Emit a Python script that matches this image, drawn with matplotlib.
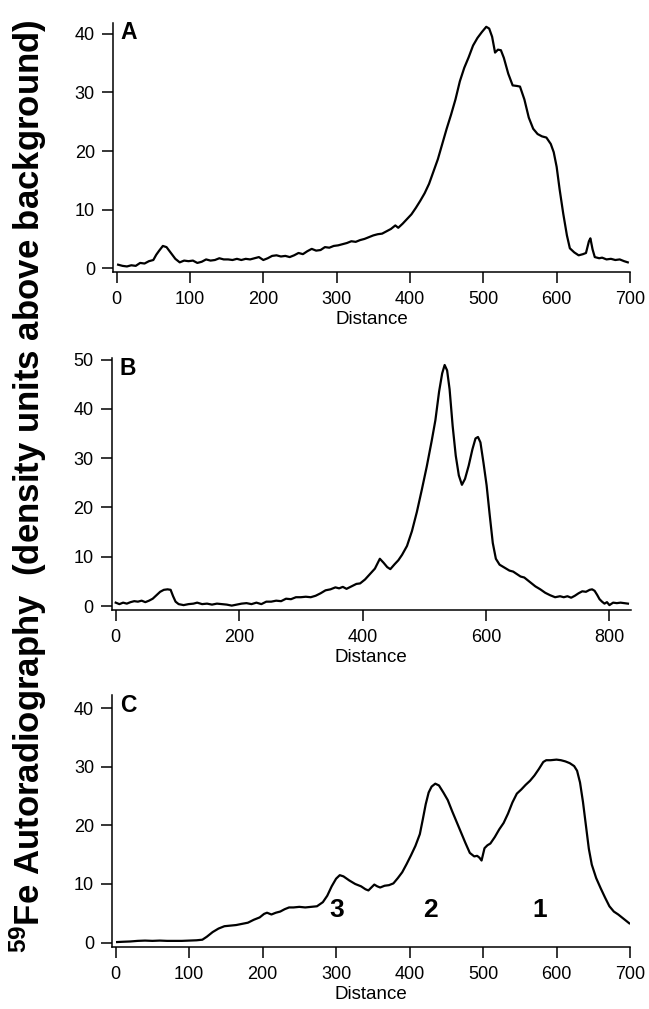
import numpy as np
import matplotlib
matplotlib.use("Agg")
import matplotlib.pyplot as plt

plt.rcParams['font.family'] = ['Liberation Sans', 'DejaVu Sans']
plt.rcParams['mathtext.fontset'] = 'custom'
plt.rcParams['mathtext.rm'] = 'Liberation Sans:bold'
plt.rcParams['mathtext.default'] = 'rm'

# panel A profile
a_x = [2, 8, 14, 20, 26, 32, 38, 44, 50, 54, 58, 63, 68, 74, 80, 86, 92, 98, 104, 110,
       116, 122, 128, 134, 140, 146, 152, 158, 164, 170, 176, 182, 188, 194, 200, 206,
       212, 218, 224, 230, 236, 242, 248, 254, 260, 266, 272, 278, 284, 290, 296, 302,
       308, 314, 320, 326, 332, 338, 344, 350, 356, 362, 368, 374, 380, 384, 390, 396,
       402, 408, 414, 420, 426, 432, 438, 444, 450, 456, 462, 468, 474, 480, 486, 492,
       498, 504, 508, 512, 516, 520, 524, 528, 534, 540, 546, 550, 556, 562, 568, 574,
       580, 586, 592, 596, 600, 604, 609, 614, 618, 624, 630, 636, 640, 644, 646, 649,
       652, 658, 662, 668, 674, 680, 686, 692, 697]
a_y = [0.6, 0.4, 0.3, 0.5, 0.4, 0.9, 0.8, 1.2, 1.4, 2.3, 3.0, 3.8, 3.6, 2.6, 1.6, 1.0,
       1.3, 1.2, 1.3, 0.9, 1.1, 1.5, 1.3, 1.4, 1.7, 1.5, 1.5, 1.4, 1.6, 1.4, 1.6, 1.5,
       1.7, 1.9, 1.4, 1.7, 2.1, 2.2, 2.0, 2.1, 1.9, 2.2, 2.6, 2.4, 2.9, 3.3, 3.0, 3.1,
       3.6, 3.5, 3.8, 3.9, 4.1, 4.3, 4.6, 4.5, 4.8, 5.0, 5.3, 5.6, 5.8, 5.9, 6.3, 6.7,
       7.3, 6.9, 7.6, 8.4, 9.2, 10.3, 11.5, 12.8, 14.4, 16.5, 18.6, 21.2, 23.8, 26.2,
       28.8, 31.9, 34.2, 36.0, 38.0, 39.3, 40.3, 41.2, 40.9, 39.5, 36.8, 37.3, 37.2,
       35.9, 33.2, 31.2, 31.1, 31.0, 28.8, 25.7, 23.8, 22.9, 22.5, 22.3, 21.2, 19.8,
       17.3, 13.5, 9.3, 5.6, 3.4, 2.7, 2.2, 2.4, 2.6, 4.6, 5.1, 3.2, 1.9, 1.7, 1.8,
       1.5, 1.6, 1.4, 1.5, 1.2, 1.0]

# panel B profile
b_x = [0, 6, 12, 18, 24, 30, 36, 42, 48, 54, 60, 66, 72, 78, 84, 89, 93, 97, 102, 110,
       118, 126, 132, 140, 148, 156, 164, 172, 180, 188, 196, 204, 212, 220, 228, 236,
       244, 252, 260, 268, 276, 284, 292, 300, 308, 316, 324, 332, 340, 348, 356, 362,
       368, 374, 382, 390, 396, 404, 412, 420, 428, 434, 440, 445, 452, 458, 464, 472,
       480, 488, 496, 504, 512, 518, 524, 529, 533, 537, 541, 546, 551, 556, 561, 566,
       572, 578, 583, 587, 591, 596, 601, 606, 611, 616, 622, 630, 638, 644, 650, 656,
       662, 668, 674, 680, 688, 696, 704, 712, 720, 726, 732, 738, 744, 750, 756, 762,
       768, 772, 776, 780, 784, 788, 792, 796, 800, 806, 812, 818, 824, 830]
b_y = [0.7, 0.4, 0.7, 0.5, 0.8, 1.0, 0.9, 1.1, 0.8, 1.1, 1.5, 2.2, 2.9, 3.3, 3.4, 3.3,
       2.0, 0.9, 0.4, 0.2, 0.4, 0.5, 0.7, 0.4, 0.5, 0.3, 0.5, 0.4, 0.3, 0.1, 0.3, 0.5,
       0.6, 0.4, 0.7, 0.4, 0.9, 0.9, 1.1, 1.0, 1.5, 1.4, 1.8, 1.8, 1.9, 1.8, 2.1, 2.6,
       3.2, 3.4, 3.8, 3.6, 3.9, 3.5, 4.0, 4.5, 4.6, 5.4, 6.5, 7.6, 9.6, 8.8, 7.9, 7.5,
       8.5, 9.3, 10.4, 12.2, 15.2, 19.1, 23.6, 28.3, 33.5, 37.7, 43.5, 47.2, 48.9, 47.8,
       44.0, 36.5, 30.5, 26.5, 24.6, 25.8, 28.5, 31.8, 34.0, 34.3, 33.2, 29.0, 24.5,
       18.5, 12.8, 9.6, 8.4, 7.8, 7.2, 7.0, 6.5, 6.0, 5.8, 5.2, 4.6, 4.0, 3.4, 2.7,
       2.2, 1.8, 2.0, 1.8, 2.0, 1.7, 2.1, 2.6, 3.0, 2.9, 3.3, 3.4, 3.1, 2.3, 1.4, 0.9,
       0.5, 0.8, 0.2, 0.7, 0.6, 0.7, 0.6, 0.5]

# panel C profile
c_x = [2, 10, 20, 30, 40, 50, 60, 70, 80, 90, 100, 110, 118, 124, 132, 140, 148, 156,
       164, 172, 180, 188, 196, 202, 206, 212, 218, 224, 230, 236, 242, 250, 258, 266,
       274, 282, 288, 294, 300, 305, 310, 318, 326, 334, 340, 344, 348, 352, 356, 360,
       366, 372, 378, 384, 390, 396, 402, 408, 414, 418, 422, 426, 430, 435, 440, 446,
       452, 458, 464, 470, 476, 482, 488, 492, 495, 498, 502, 506, 510, 516, 522, 528,
       534, 540, 546, 552, 558, 564, 570, 576, 582, 586, 592, 600, 606, 612, 618, 624,
       628, 632, 636, 640, 644, 648, 654, 660, 666, 672, 678, 684, 690, 696, 699]
c_y = [0.1, 0.15, 0.2, 0.3, 0.35, 0.3, 0.35, 0.3, 0.3, 0.3, 0.35, 0.4, 0.5, 1.0, 1.8,
       2.4, 2.8, 2.9, 3.0, 3.2, 3.4, 3.9, 4.3, 4.9, 5.1, 4.8, 5.1, 5.3, 5.7, 6.0, 6.0,
       6.1, 6.0, 6.1, 6.2, 6.9, 8.0, 9.6, 10.9, 11.5, 11.3, 10.6, 10.0, 9.6, 9.1, 8.9,
       9.4, 9.9, 9.6, 9.4, 9.7, 9.8, 10.1, 11.0, 12.0, 13.4, 14.9, 16.5, 18.5, 21.0,
       23.6, 25.6, 26.6, 27.1, 26.8, 25.6, 24.3, 22.4, 20.6, 18.8, 17.0, 15.3, 14.7,
       14.8, 14.5, 14.0, 16.1, 16.6, 16.9, 18.0, 19.3, 20.4, 22.0, 23.9, 25.4, 26.1,
       26.9, 27.6, 28.5, 29.6, 30.8, 31.1, 31.1, 31.2, 31.1, 30.9, 30.6, 30.1, 29.3,
       27.3, 24.0, 20.0, 16.0, 13.3, 11.0, 9.3, 7.7, 6.2, 5.3, 4.8, 4.2, 3.6, 3.3]

c_peaks = ['3', '2', '1']
c_peak_x = [301, 428, 577]

panels = [
    # letter, x, y, rect, xlim, ylim, xticks, yticks
    ('A', a_x, a_y, [0.1741, 0.7307, 0.7966, 0.2468], (-5, 700), (-0.6, 41.9),
     np.arange(0, 701, 100), np.arange(0, 41, 10)),
    ('B', b_x, b_y, [0.1721, 0.3954, 0.8002, 0.2497], (-6.5, 835), (-0.8, 50.3),
     np.arange(0, 801, 200), np.arange(0, 51, 10)),
    ('C', c_x, c_y, [0.1730, 0.0617, 0.7977, 0.2494], (-4.6, 700), (-0.7, 42.2),
     np.arange(0, 701, 100), np.arange(0, 41, 10)),
]

fig = plt.figure(figsize=(6.49, 10.09), dpi=100)

for letter, x, y, rect, xlim, ylim, xt, yt in panels:
    ax = fig.add_axes(rect)
    ax.plot(x, y, color='black', lw=1.6)
    ax.set_xlim(*xlim)
    ax.set_ylim(*ylim)
    ax.set_xticks(xt)
    ax.set_yticks(yt)
    for s in ['top', 'right']:
        ax.spines[s].set_visible(False)
    for s in ['left', 'bottom']:
        ax.spines[s].set_linewidth(1.1)
    ax.tick_params(direction='out', length=8, width=1.1, labelsize=13, pad=5)
    ax.tick_params(axis='x', pad=6)
    ax.set_xlabel('Distance', fontsize=13.5, labelpad=2)
    ax.text(0.015, 1.005, letter, transform=ax.transAxes, fontsize=16.5,
            fontweight='bold', ha='left', va='top')
    if letter == 'C':
        for lab, px in zip(c_peaks, c_peak_x):
            ax.text(px, 5.5, lab, fontsize=19, fontweight='bold',
                    ha='center', va='center')

fig.text(0.043, 0.518,
         r'$^{59}$Fe Autoradiography  (density units above background)',
         rotation=90, ha='center', va='center', fontsize=25, fontweight='bold')

fig.savefig('out.png', dpi=100)
